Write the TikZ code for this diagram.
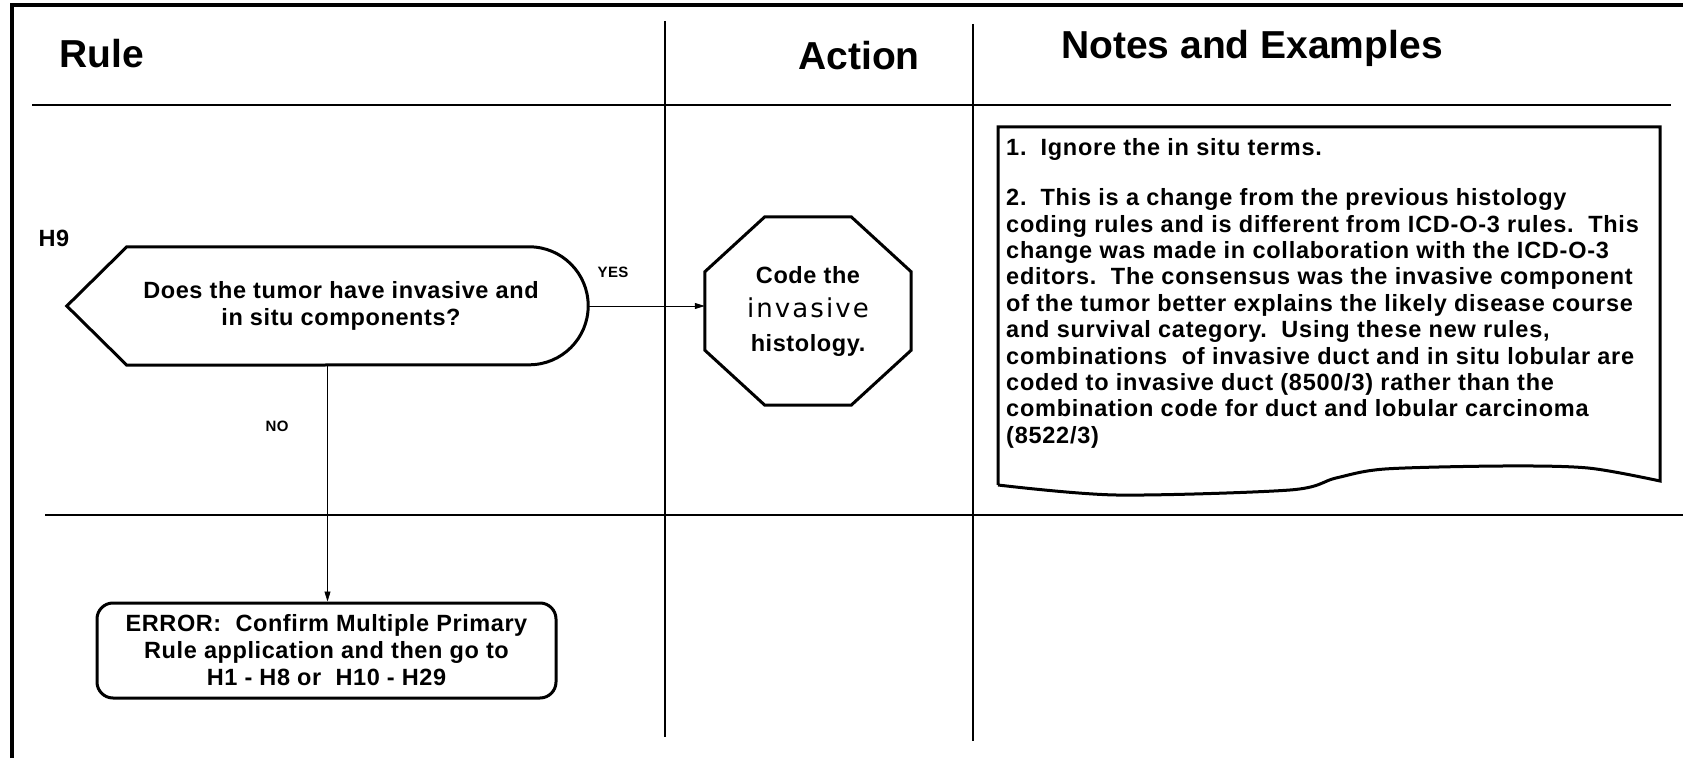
\documentclass[tikz,border=0pt]{standalone}
\usepackage{fontspec}
\setmainfont{Liberation Sans}
\newfontfamily\boxfont[LetterSpace=2.5]{Liberation Sans}
\newfontfamily\notefont[LetterSpace=3.2]{Liberation Sans}
\newfontfamily\widefont[LetterSpace=8]{DejaVu Sans}
\usetikzlibrary{arrows.meta}

\begin{document}
\begin{tikzpicture}[x=1pt, y=1pt, >={Triangle[length=10pt,width=6pt]},
    hdr/.style={font=\fontsize{39}{44}\selectfont\bfseries},
    txt/.style={font=\boxfont\fontsize{23.5}{27}\selectfont\bfseries, align=center},
    small/.style={font=\boxfont\fontsize{15}{18}\selectfont\bfseries},
    outline/.style={line width=3pt},
    rule/.style={line width=2.5pt},
    flow/.style={->, line width=0.8pt}]
    \useasboundingbox (0,0) rectangle (1683,758);

    % frame and table lines
    \draw[line width=4pt] (12,0) -- (12,753) -- (1683,753);
    \draw[rule] (32,653) -- (1671,653);
    \draw[rule] (45,243) -- (1683,243);
    \draw[line width=2pt] (665,737) -- (665,21);
    \draw[line width=2pt] (973,734) -- (973,17);

    % headers
    \node[hdr] (hrule) at (102,704) {Rule};
    \node[hdr] (hact) at (859,702) {Action};
    \node[hdr] (hnotes) at (1252,710) {Notes and Examples};

    % H9 decision
    \node[txt] (h9) at (54,520) {H9};
    \node[minimum width=521pt, minimum height=118pt] (ques) at (327.5,452) {};
    \draw[outline] (ques.west) -- ([xshift=60pt]ques.north west)
        -- ([xshift=-59pt]ques.north east) arc[start angle=90, end angle=-90, radius=59pt]
        -- ([xshift=60pt]ques.south west) -- cycle;
    \node[txt] (qtext) at (341,452) {Does the tumor have invasive and\\in situ components?};

    % action
    \node[minimum width=206pt, minimum height=188pt] (act) at (808,447) {};
    \draw[outline] ([xshift=60pt]act.north west) -- ([xshift=-60pt]act.north east)
        -- ([yshift=-55pt]act.north east) -- ([yshift=55pt]act.south east)
        -- ([xshift=-60pt]act.south east) -- ([xshift=60pt]act.south west)
        -- ([yshift=55pt]act.south west) -- ([yshift=-55pt]act.north west) -- cycle;
    \node[txt, font=\boxfont\fontsize{23.5}{34}\selectfont\bfseries] (atext) at (act)
        {Code the\\{\widefont\mdseries\fontsize{26}{34}\selectfont invasive}\\histology.};

    % error
    \node[draw, outline, rounded corners=16pt, minimum width=459pt, minimum height=95pt, txt]
        (err) at (326.5,107.5)
        {ERROR:\ \ Confirm Multiple Primary\\Rule application and then go to\\H1 - H8 or\ \ H10 - H29};

    % notes box
    \draw[outline] (998,273) -- (998,631) -- (1660,631) -- (1660,277)
        -- plot[smooth] coordinates {(1660,277) (1588,290) (1503,292) (1385,289) (1336,280) (1290,268) (1116,263) (998,273)};
    \node[txt, align=left, anchor=north west, inner sep=0pt,
        font=\notefont\fontsize{23.5}{26.4}\selectfont\bfseries] (ntext) at (1006,620)
        {1.\hspace{14pt}Ignore the in situ terms.\\[24pt]
         2.\hspace{14pt}This is a change from the previous histology\\
         coding rules and is different from ICD-O-3 rules.\ \ This\\
         change was made in collaboration with the ICD-O-3\\
         editors.\ \ The consensus was the invasive component\\
         of the tumor better explains the likely disease course\\
         and survival category.\ \ Using these new rules,\\
         combinations\ \ of invasive duct and in situ lobular are\\
         coded to invasive duct (8500/3) rather than the\\
         combination code for duct and lobular carcinoma\\
         (8522/3)};

    % connectors
    \draw[flow] (ques.east) -- (ques.east -| act.west);
    \node[small] (yes) at (613,486) {YES};
    \draw[flow] (ques.south) -- (ques.south |- err.north);
    \node[small] (no) at (277,332) {NO};
\end{tikzpicture}
\end{document}
